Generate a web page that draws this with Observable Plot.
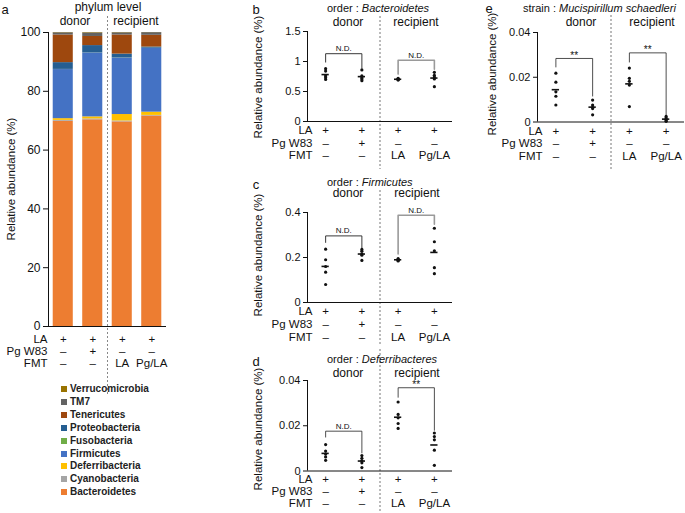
<!DOCTYPE html>
<html><head><meta charset="utf-8">
<script src="https://cdn.jsdelivr.net/npm/d3@7"></script>
<script src="https://cdn.jsdelivr.net/npm/@observablehq/plot@0.6"></script>
<style>
body{margin:0;background:#fff;}
#fig{position:relative;width:685px;height:513px;overflow:hidden;font-family:"Liberation Sans",Arial,sans-serif;color:#111;}
.p{position:absolute;}
.p svg{overflow:visible;}
.t{position:absolute;white-space:nowrap;transform:translate(-50%,-50%);line-height:1;}
.tl{position:absolute;white-space:nowrap;transform:translate(0,-50%);line-height:1;}
.v{position:absolute;white-space:nowrap;transform:translate(-50%,-50%) rotate(-90deg);line-height:1;}
.lg{position:absolute;white-space:nowrap;transform:translate(0,-50%);font-size:10px;font-weight:bold;line-height:1;color:#222;}
.sw{position:absolute;width:6px;height:6px;transform:translate(0,-50%);}
</style></head><body><div id="fig"></div>
<script>
// ---------- data ----------
const phyla = ["Bacteroidetes","Cyanobacteria","Deferribacteria","Firmicutes","Fusobacteria","Proteobacteria","Tenericutes","TM7","Verrucomicrobia"];
const phylumColors = ["#ED7D31","#A5A5A5","#FFC000","#4472C4","#70AD47","#255E91","#9E480E","#636363","#997300"];
const groups = ["donor LA","donor LA + Pg W83","recipient FMT LA","recipient FMT Pg/LA"];
const groupIdx = [1,2,3,4];
// relative abundance (%) per bar, in phyla order
const phylumDonorLA     = [69.8,0.3,0.6,16.7,0.05,2.3,9.4,0.75,0.1];
const phylumDonorPg     = [70.3,0.3,0.7,21.8,0.05,2.4,3.1,1.2,0.15];
const phylumRecipLA     = [69.6,0.3,2.2,19.2,0.05,1.3,6.5,0.75,0.1];
const phylumRecipPgLA   = [71.6,0.2,1.1,21.7,0.05,0.4,4.0,0.9,0.05];

const rowLabels = ["LA","Pg W83","FMT"];
const rowLA  = ["+","+","+","+"];
const rowPg  = ["–","+","–","–"];
const rowFMT = ["–","–","LA","Pg/LA"];

const bacteroidetes = [[0.88,0.84,0.76,0.73,0.70],[0.86,0.76,0.73,0.71,0.68],[0.72,0.71,0.70,0.70,0.69],[0.82,0.77,0.74,0.71,0.58]];
const firmicutes = [[0.237,0.19,0.16,0.135,0.08],[0.236,0.228,0.216,0.21,0.187],[0.195,0.192,0.19,0.187,0.185],[0.33,0.27,0.23,0.155,0.128]];
const deferribacteres = [[0.0117,0.0088,0.0075,0.0062,0.0047],[0.0068,0.0056,0.0045,0.0036,0.0015],[0.0305,0.025,0.0235,0.021,0.0188],[0.0168,0.0152,0.0138,0.0092,0.0025]];
const mucispirillum = [[0.0218,0.0178,0.0135,0.0115,0.0076],[0.0098,0.0076,0.0066,0.006,0.0032],[0.0241,0.0195,0.0182,0.0165,0.0069],[0.0025,0.0018,0.0012,0.0006,0.0003]];

const bacteroidetesBrackets = [{from:1,to:2,top:1.13,left:0.99,right:0.89,label:"N.D."},{from:3,to:4,top:1.02,left:0.79,right:0.87,label:"N.D."}];
const firmicutesBrackets = [{from:1,to:2,top:0.296,left:0.267,right:0.242,label:"N.D."},{from:3,to:4,top:0.388,left:0.216,right:0.348,label:"N.D."}];
const deferriBrackets = [{from:1,to:2,top:0.0176,left:0.015,right:0.008,label:"N.D."},{from:3,to:4,top:0.0368,left:0.0326,right:0.018,label:"**"}];
const mucisBrackets = [{from:1,to:2,top:0.0284,left:0.0246,right:0.0116,label:"**"},{from:3,to:4,top:0.0309,left:0.0268,right:0.0028,label:"**"}];

const ticksA = [0,20,40,60,80,100];
const ticksB = [0,0.5,1,1.5];
const ticksC = [0,0.2,0.4];
const ticksDE = [0,0.02,0.04];

// ---------- helpers ----------
const fig = document.getElementById("fig");
const xDomain = [0.5, 4.5];
function put(node, left, top) {
  const d = document.createElement("div");
  d.className = "p"; d.style.left = left + "px"; d.style.top = top + "px";
  d.appendChild(node); fig.appendChild(d);
}
function txt(html, x, y, size, cls = "t") {
  const d = document.createElement("div");
  d.className = cls; d.innerHTML = html;
  d.style.left = x + "px"; d.style.top = y + "px"; d.style.fontSize = size + "px";
  fig.appendChild(d);
}
const tableRows = [rowLA, rowPg, rowFMT];
function tableMarks(marks, rowDy, labelDx, fs) {
  tableRows.forEach((row, r) => {
    marks.push(Plot.text(groupIdx, {x: d => d, text: (d, i) => row[i], frameAnchor: "bottom", dy: rowDy[r], fontSize: fs, fill: "#111"}));
    marks.push(Plot.text([rowLabels[r]], {text: d => d, frameAnchor: "bottom-left", textAnchor: "end", dx: labelDx, dy: rowDy[r], fontSize: fs, fill: "#111"}));
  });
}
const plotStyle = {fontFamily: "'Liberation Sans', Arial, sans-serif", fontSize: "11px", color: "#111", background: "transparent", overflow: "visible"};

// ---------- panel a ----------
{
  const bars = [phylumDonorLA, phylumDonorPg, phylumRecipLA, phylumRecipPgLA];
  const rows = bars.flatMap((vals, b) => { let acc = 0; return vals.map((v, k) => ({g: groupIdx[b], phylum: phyla[k], y1: acc, y2: (acc += v)})); });
  const marks = [
    Plot.rect(rows, {x1: d => d.g - 0.34, x2: d => d.g + 0.34, y1: "y1", y2: "y2", fill: "phylum"}),
    Plot.ruleX([(groupIdx[1] + groupIdx[2]) / 2], {stroke: "#888", strokeDasharray: "2,2", insetTop: -16, insetBottom: -68}),
    Plot.ruleX([xDomain[0]], {stroke: "#111"}),
    Plot.ruleY([0], {stroke: "#111"}),
    Plot.axisY({ticks: ticksA, tickFormat: d => String(d), tickSize: 5, tickPadding: 3, label: null, fontSize: 12})
  ];
  tableMarks(marks, [16, 28.5, 40.7], -1, 11.5);
  const svg = Plot.plot({width: 170, height: 400, marginLeft: 48, marginRight: 4, marginTop: 32, marginBottom: 74,
    x: {domain: xDomain, axis: null}, y: {domain: [0, 100]},
    color: {domain: phyla, range: phylumColors}, style: plotStyle, marks});
  put(svg, 0, 0);
  txt("a", 5, 9, 13);
  txt("phylum level", 108, 7, 12);
  txt("donor", 75, 21, 12);
  txt("recipient", 136, 21, 12);
  txt("Relative abundance (%)", 12, 179, 11.5, "v");
  // legend
  phyla.slice().reverse().forEach((p, i) => {
    const y = 389 + i * 12.9;
    const s = document.createElement("div");
    s.className = "sw"; s.style.left = "61px"; s.style.top = y + "px";
    s.style.background = phylumColors[phyla.indexOf(p)];
    fig.appendChild(s);
    txt(p, 70, y, 10, "lg");
  });
}

// ---------- panels b-e ----------
function scatterPanel(p) {
  const pts = p.values.flatMap((vs, g) => vs.map(v => ({g: groupIdx[g], v})));
  const means = p.values.map((vs, g) => ({g: groupIdx[g], m: d3.mean(vs)}));
  const marks = [
    Plot.ruleX([(groupIdx[1] + groupIdx[2]) / 2], {stroke: "#777", strokeDasharray: "2,2", insetTop: -p.divTop, insetBottom: -p.divBottom}),
    Plot.ruleY([p.yDomain[0]], {stroke: "#111"}),
    Plot.ruleX([xDomain[0]], {stroke: "#111"}),
    Plot.axisY({ticks: p.ticks, tickFormat: d => String(d), tickSize: 4, tickPadding: 3, label: null, fontSize: 11})
  ];
  p.brackets.forEach((b, k) => {
    const path = [{x: b.from, y: b.left}, {x: b.from, y: b.top}, {x: b.to, y: b.top}, {x: b.to, y: b.right}];
    marks.push(Plot.line(path, {x: "x", y: "y", stroke: p.bracketColors[k], strokeWidth: p.bracketWidths[k]}));
    const star = b.label === "**";
    marks.push(Plot.text([b], {x: d => (d.from + d.to) / 2, y: "top", text: "label", dy: star ? -3 : -5, fontSize: star ? 10 : 8, fill: "#111"}));
  });
  marks.push(Plot.dot(pts, {x: "g", y: "v", r: 1.6, fill: "#111"}));
  marks.push(Plot.ruleY(means, {x1: d => d.g - 0.1, x2: d => d.g + 0.1, y: "m", stroke: "#111", strokeWidth: 1.6}));
  tableMarks(marks, p.rowDy, 5, 11.5);
  const height = p.marginTop + p.frameH + p.marginBottom;
  const svg = Plot.plot({width: p.width, height, marginLeft: 57, marginRight: p.marginRight, marginTop: p.marginTop, marginBottom: p.marginBottom,
    x: {domain: xDomain, axis: null}, y: {domain: p.yDomain}, style: plotStyle, marks});
  put(svg, p.left, p.top);
}

scatterPanel({values: bacteroidetes, brackets: bacteroidetesBrackets, yDomain: [0, 1.5], ticks: ticksB,
  left: 250, top: 0, width: 205, marginRight: 3, marginTop: 31, frameH: 90, marginBottom: 50,
  rowDy: [12.5, 25.3, 37.8], divTop: 15, divBottom: 48, bracketColors: ["#222", "#9a9a9a"], bracketWidths: [0.9, 1.6]});
scatterPanel({values: firmicutes, brackets: firmicutesBrackets, yDomain: [0, 0.4], ticks: ticksC,
  left: 250, top: 172, width: 205, marginRight: 3, marginTop: 40, frameH: 90, marginBottom: 50,
  rowDy: [12.5, 25, 38], divTop: 22, divBottom: 43, bracketColors: ["#222", "#9a9a9a"], bracketWidths: [0.9, 1.6]});
scatterPanel({values: deferribacteres, brackets: deferriBrackets, yDomain: [0, 0.04], ticks: ticksDE,
  left: 250, top: 345, width: 205, marginRight: 3, marginTop: 35, frameH: 90.5, marginBottom: 42.5,
  rowDy: [12.3, 24.3, 36.3], divTop: 31, divBottom: 42, bracketColors: ["#222", "#222"], bracketWidths: [0.8, 0.8]});
scatterPanel({values: mucispirillum, brackets: mucisBrackets, yDomain: [0, 0.04], ticks: ticksDE,
  left: 480, top: 0, width: 205, marginRight: 1, marginTop: 32, frameH: 89.5, marginBottom: 50.5,
  rowDy: [12.8, 25.3, 37.8], divTop: 17, divBottom: 48, bracketColors: ["#222", "#222"], bracketWidths: [0.8, 0.8]});

// panel titles and labels
txt("b", 256, 9, 13);
txt("order : <i>Bacteroidetes</i>", 327, 8, 11, "tl");
txt("donor", 348, 22, 12);
txt("recipient", 416, 22, 12);
txt("Relative abundance (%)", 259, 77, 11.5, "v");

txt("c", 256, 184, 13);
txt("order : <i>Firmicutes</i>", 327, 182, 11, "tl");
txt("donor", 348, 193, 12);
txt("recipient", 417, 193, 12);
txt("Relative abundance (%)", 259, 255, 11.5, "v");

txt("d", 256, 361, 13);
txt("order : <i>Deferribacteres</i>", 327, 359, 11, "tl");
txt("donor", 348, 373, 12);
txt("recipient", 417, 373, 12);
txt("Relative abundance (%)", 259, 429, 11.5, "v");

txt("e", 489, 8, 13);
txt("strain : <i>Mucispirillum schaedleri</i>", 523, 8, 11, "tl");
txt("donor", 581, 22, 12);
txt("recipient", 652, 22, 12);
txt("Relative abundance (%)", 493, 74, 11.5, "v");
</script></body></html>
